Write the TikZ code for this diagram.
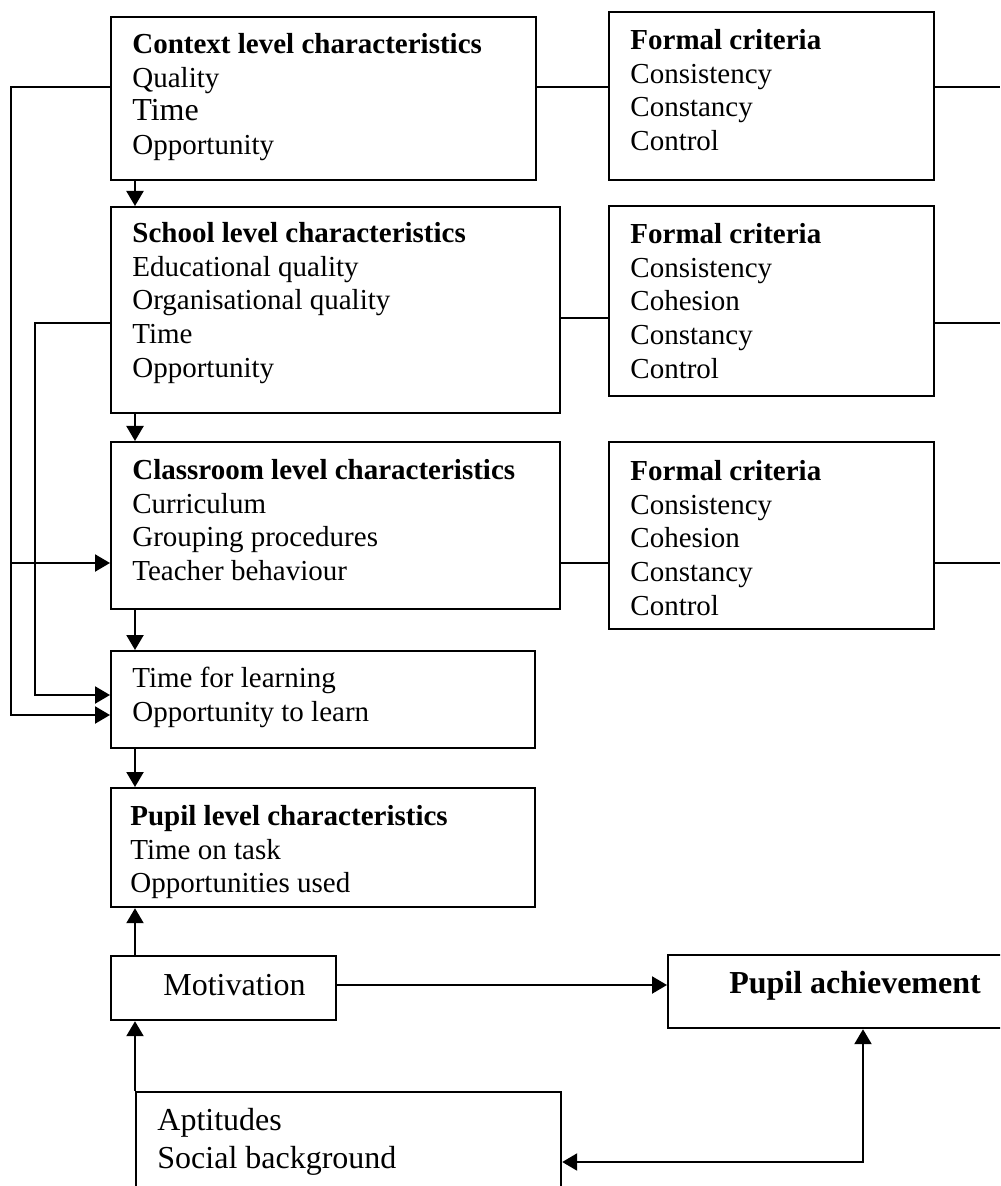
\documentclass[tikz,border=0pt]{standalone}
\usepackage{fontspec}
\setmainfont{Liberation Serif}
\usetikzlibrary{arrows.meta}

\tikzset{
  box/.style={draw, line width=1.1pt, inner sep=0pt, anchor=north west},
  txt/.style={inner sep=0pt, anchor=north west, align=left,
              font=\fontsize{14.5pt}{16.9pt}\selectfont},
  bigtxt/.style={inner sep=0pt, font=\fontsize{16pt}{19pt}\selectfont},
  link/.style={line width=1.1pt},
  tip/.style={Triangle[length=7.5pt,width=8.5pt]},
  arr/.style={line width=1.1pt, -{Triangle[length=7.5pt,width=8.5pt]}},
  arrboth/.style={line width=1.1pt, {Triangle[length=7.5pt,width=8.5pt]}-{Triangle[length=7.5pt,width=8.5pt]}}
}

\begin{document}
\begin{tikzpicture}[x=0.5pt, y=-0.5pt]
\clip (0,0) rectangle (1000,1186);
\fill[white] (0,0) rectangle (1000,1186);

% reference columns and rows for the connectors
\coordinate (colA)  at (135,0);
\coordinate (colB)  at (863,0);
\coordinate (outer) at (11,0);
\coordinate (inner) at (35,0);
\coordinate (edge)  at (1000,0);
\coordinate (r1)  at (0,87);
\coordinate (r2)  at (0,318);
\coordinate (r2b) at (0,323);
\coordinate (r3)  at (0,563);
\coordinate (rt1) at (0,695);
\coordinate (rt2) at (0,715);
\coordinate (rm)  at (0,985);
\coordinate (rs)  at (0,1162);

% boxes
\node[box, minimum width=212.5pt, minimum height=81.5pt] (ctx) at (110,16) {};
\node[box, minimum width=162.5pt, minimum height=84pt]   (fc1) at (608,11) {};
\node[box, minimum width=224.5pt, minimum height=103pt]  (sch) at (110,206) {};
\node[box, minimum width=162.5pt, minimum height=95pt]   (fc2) at (608,205) {};
\node[box, minimum width=224.5pt, minimum height=83.5pt] (cls) at (110,441) {};
\node[box, minimum width=162.5pt, minimum height=93.5pt] (fc3) at (608,441) {};
\node[box, minimum width=212pt,   minimum height=48.5pt] (tfl) at (110,650) {};
\node[box, minimum width=212pt,   minimum height=59.5pt] (pup) at (110,787) {};
\node[box, minimum width=112.5pt, minimum height=32pt]   (mot) at (110,955) {};
\node[box, minimum width=190pt,   minimum height=36.5pt] (ach) at (667,954) {};
\node[box, minimum width=212.5pt, minimum height=70pt]   (apt) at (135,1091) {};

% box texts
\node[txt] (ctxT) at (132,29.3) {\strut\textbf{Context level characteristics}\\
  Quality\\ {\fontsize{16pt}{17pt}\selectfont Time}\\ Opportunity};
\node[txt] (fc1T) at (630,25.3) {\strut\textbf{Formal criteria}\\
  Consistency\\ Constancy\\ Control};
\node[txt] (schT) at (132,218.3) {\strut\textbf{School level characteristics}\\
  Educational quality\\ Organisational quality\\ Time\\ Opportunity};
\node[txt] (fc2T) at (630,219.3) {\strut\textbf{Formal criteria}\\
  Consistency\\ Cohesion\\ Constancy\\ Control};
\node[txt] (clsT) at (132,455.3) {\strut\textbf{Classroom level characteristics}\\
  Curriculum\\ Grouping procedures\\ Teacher behaviour};
\node[txt] (fc3T) at (630,456.3) {\strut\textbf{Formal criteria}\\
  Consistency\\ Cohesion\\ Constancy\\ Control};
\node[txt] (tflT) at (132,663.3) {\strut Time for learning\\ Opportunity to learn};
\node[txt] (pupT) at (130,801.3) {\strut\textbf{Pupil level characteristics}\\
  Time on task\\ Opportunities used};
\node[bigtxt, anchor=base west] (motT) at (163,995) {Motivation};
\node[bigtxt, anchor=base] (achT) at (855,993) {\textbf{Pupil achievement}};
\node[bigtxt, anchor=north west, align=left] (aptT) at (157,1103.4)
  {\strut Aptitudes\\ Social background};

% downward chain
\draw[arr] (ctx.south -| colA) -- (sch.north -| colA);
\draw[arr] (sch.south -| colA) -- (cls.north -| colA);
\draw[arr] (cls.south -| colA) -- (tfl.north -| colA);
\draw[arr] (tfl.south -| colA) -- (pup.north -| colA);
\draw[arr] (mot.north -| colA) -- (pup.south -| colA);
\draw[arr] (apt.north west) -- (mot.south -| apt.north west);

% links to the formal criteria
\draw[link] (ctx.east |- r1) -- (fc1.west |- r1);
\draw[link] (fc1.east |- r1) -- (r1 -| edge);
\draw[link] (sch.east |- r2) -- (fc2.west |- r2);
\draw[link] (fc2.east |- r2b) -- (r2b -| edge);
\draw[link] (cls.east |- r3) -- (fc3.west |- r3);
\draw[link] (fc3.east |- r3) -- (r3 -| edge);

% feedback lines on the left
\draw[arr] (ctx.west |- r1) -- (r1 -| outer) -- (rt2 -| outer) -- (tfl.west |- rt2);
\draw[arr] (r3 -| outer) -- (cls.west |- r3);
\draw[arr] (sch.west |- r2b) -- (r2b -| inner) -- (rt1 -| inner) -- (tfl.west |- rt1);

% achievement links
\draw[arr] (mot.east |- rm) -- (ach.west |- rm);
\draw[arrboth] (ach.south -| colB) |- (apt.east |- rs);
\end{tikzpicture}
\end{document}
